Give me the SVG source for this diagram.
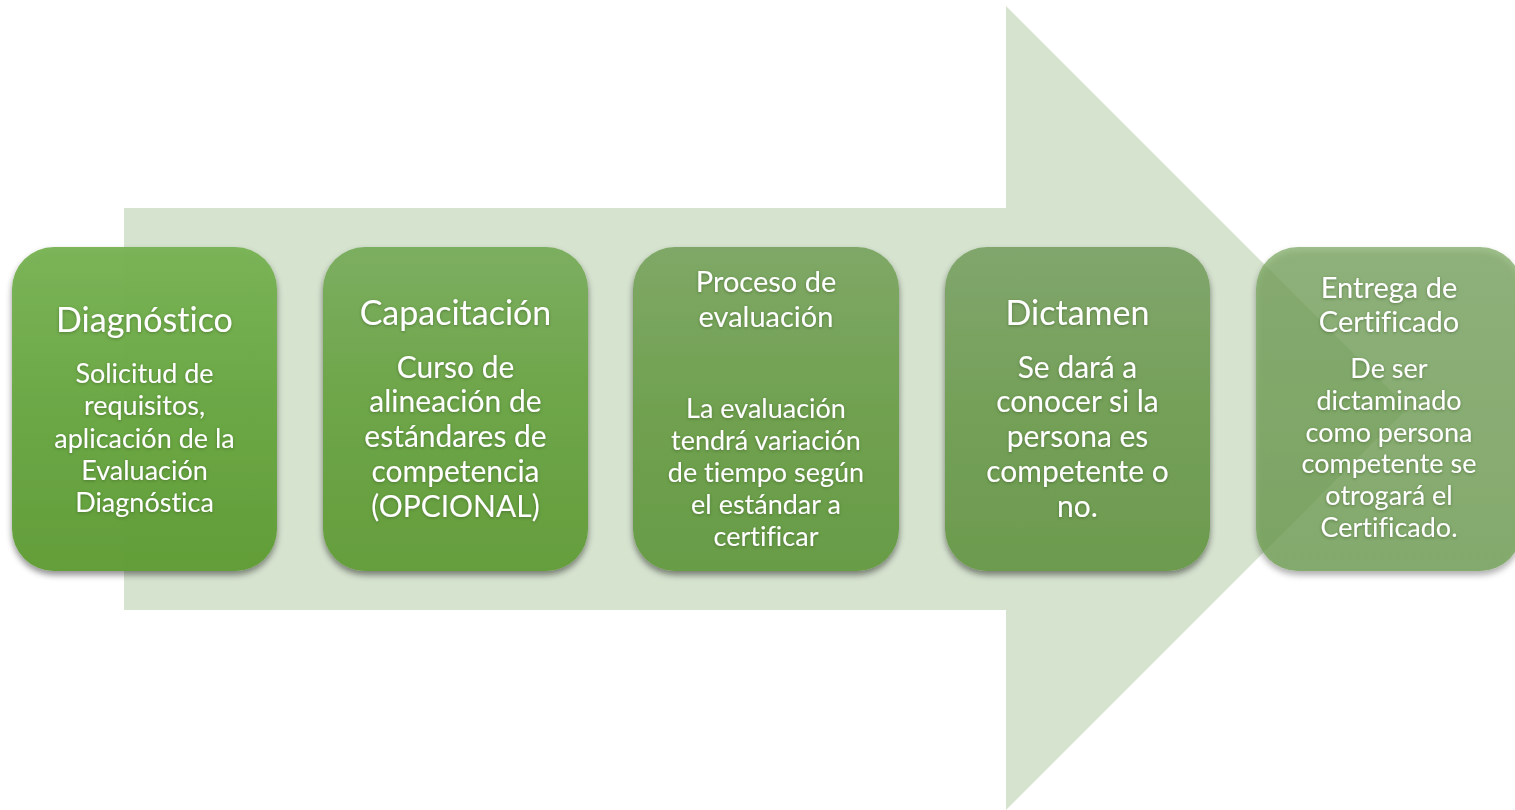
<svg xmlns="http://www.w3.org/2000/svg" width="1515" height="810" viewBox="0 0 1515 810">
<defs>
<linearGradient id="g1" x1="0" y1="0" x2="0" y2="1"><stop offset="0" stop-color="#78b354"/><stop offset="0.5" stop-color="#69a742"/><stop offset="1" stop-color="#5f9d36"/></linearGradient>
<linearGradient id="g2" x1="0" y1="0" x2="0" y2="1"><stop offset="0" stop-color="#7cae60"/><stop offset="0.5" stop-color="#6da548"/><stop offset="1" stop-color="#659e3d"/></linearGradient>
<linearGradient id="g3" x1="0" y1="0" x2="0" y2="1"><stop offset="0" stop-color="#7fa867"/><stop offset="0.5" stop-color="#70a150"/><stop offset="1" stop-color="#689c46"/></linearGradient>
<linearGradient id="g4" x1="0" y1="0" x2="0" y2="1"><stop offset="0" stop-color="#81a66d"/><stop offset="0.5" stop-color="#74a058"/><stop offset="1" stop-color="#6c9b4e"/></linearGradient>
<linearGradient id="g5" x1="0" y1="0" x2="0" y2="1"><stop offset="0" stop-color="#77a55d"/><stop offset="1" stop-color="#6a9c4c"/></linearGradient>
<filter id="sh" x="-10%" y="-10%" width="120%" height="125%"><feDropShadow dx="0" dy="4" stdDeviation="3" flood-color="#000" flood-opacity="0.45"/></filter>
<filter id="ts" x="-10%" y="-30%" width="120%" height="160%"><feDropShadow dx="0" dy="1" stdDeviation="1.5" flood-color="#2d4d1d" flood-opacity="0.5"/></filter>
</defs>
<style>
text{font-family:Lato,"Liberation Sans",sans-serif;fill:#fff;text-anchor:middle;font-variant-ligatures:none}
.t{font-size:34px}
.b{font-size:30px}
.s{font-size:27px}
.s3t{font-size:29px}
</style>
<polygon id="arrow" points="124,208 1006,208 1006,6 1408,408 1006,810 1006,610 124,610" fill="#d6e3cf"/>
<g id="connectors"/>
<g id="n1">
<rect x="12" y="247" width="265" height="324" rx="42" fill="url(#g1)" fill-opacity="0.96" filter="url(#sh)"/>
<g filter="url(#ts)">
<text class="t" x="144.5" y="332">Diagnóstico</text>
<text class="s" x="144.5" y="383">Solicitud de</text>
<text class="s" x="144.5" y="415">requisitos,</text>
<text class="s" x="144.5" y="448">aplicación de la</text>
<text class="s" x="144.5" y="480">Evaluación</text>
<text class="s" x="144.5" y="512">Diagnóstica</text>
</g>
</g>
<g id="n2">
<rect x="323" y="247" width="265" height="324" rx="42" fill="url(#g2)" filter="url(#sh)"/>
<g filter="url(#ts)">
<text class="t" x="455.5" y="325">Capacitación</text>
<text class="b" x="455.5" y="378">Curso de</text>
<text class="b" x="455.5" y="412">alineación de</text>
<text class="b" x="455.5" y="447">estándares de</text>
<text class="b" x="455.5" y="482">competencia</text>
<text class="b" x="455.5" y="517">(OPCIONAL)</text>
</g>
</g>
<g id="n3">
<rect x="633" y="247" width="266" height="324" rx="42" fill="url(#g3)" filter="url(#sh)"/>
<g filter="url(#ts)">
<text class="s3t" x="766" y="292">Proceso de</text>
<text class="s3t" x="766" y="327">evaluación</text>
<text class="s" x="766" y="418">La evaluación</text>
<text class="s" x="766" y="450">tendrá variación</text>
<text class="s" x="766" y="482">de tiempo según</text>
<text class="s" x="766" y="514">el estándar a</text>
<text class="s" x="766" y="546">certificar</text>
</g>
</g>
<g id="n4">
<rect x="945" y="247" width="265" height="324" rx="42" fill="url(#g4)" filter="url(#sh)"/>
<g filter="url(#ts)">
<text class="t" x="1077.5" y="325">Dictamen</text>
<text class="b" x="1077.5" y="378">Se dará a</text>
<text class="b" x="1077.5" y="412">conocer si la</text>
<text class="b" x="1077.5" y="447">persona es</text>
<text class="b" x="1077.5" y="482">competente o</text>
<text class="b" x="1077.5" y="517">no.</text>
</g>
</g>
<g id="n5">
<rect x="1256" y="247" width="266" height="324" rx="42" fill="url(#g5)" fill-opacity="0.7" filter="url(#sh)"/>
<g filter="url(#ts)">
<text class="s3t" x="1389" y="298">Entrega de</text>
<text class="s3t" x="1389" y="332">Certificado</text>
<text class="s" x="1389" y="378">De ser</text>
<text class="s" x="1389" y="410">dictaminado</text>
<text class="s" x="1389" y="442">como persona</text>
<text class="s" x="1389" y="473">competente se</text>
<text class="s" x="1389" y="505">otrogará el</text>
<text class="s" x="1389" y="537">Certificado.</text>
</g>
</g>
</svg>
